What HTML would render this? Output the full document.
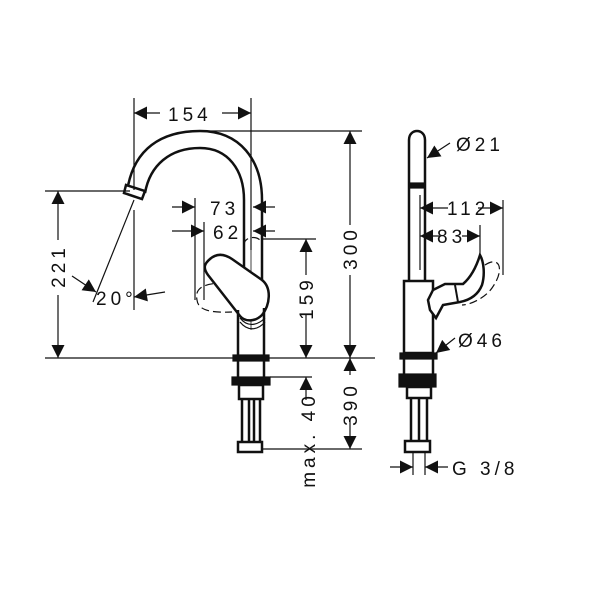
<!DOCTYPE html>
<html><head><meta charset="utf-8"><style>
html,body{margin:0;padding:0;background:#fff;width:600px;height:600px;overflow:hidden}
svg text{font-family:"Liberation Sans",sans-serif;font-size:19px;fill:#111;letter-spacing:4px}
</style></head><body>
<svg width="600" height="600" viewBox="0 0 600 600" xmlns="http://www.w3.org/2000/svg">
<defs>
<marker id="a" viewBox="0 0 10 10" refX="10" refY="5" markerWidth="15" markerHeight="13" markerUnits="userSpaceOnUse" orient="auto"><path d="M0,0L10,5L0,10z" fill="#111"/></marker>
</defs>
<g stroke="#111" fill="none" stroke-width="1.2">
<line x1="134" y1="98" x2="134" y2="190"/>
<line x1="251" y1="98" x2="251" y2="250"/>
<line x1="190" y1="131" x2="362" y2="131"/>
<line x1="45" y1="191" x2="130" y2="191"/>
<line x1="45" y1="358" x2="375" y2="358"/>
<line x1="262" y1="449" x2="362" y2="449"/>
<line x1="270" y1="377" x2="312" y2="377"/>
<line x1="262" y1="239" x2="316" y2="239"/>
<line x1="195" y1="198" x2="195" y2="300"/>
<line x1="204" y1="222" x2="204" y2="300"/>
<line x1="134" y1="200" x2="93" y2="302"/>
<line x1="134" y1="210" x2="134" y2="310" />
<line x1="160" y1="113" x2="134" y2="113" marker-end="url(#a)"/>
<line x1="222" y1="113" x2="251" y2="113" marker-end="url(#a)"/>
<line x1="350" y1="225" x2="350" y2="131" marker-end="url(#a)"/>
<line x1="350" y1="275" x2="350" y2="358" marker-end="url(#a)"/>
<line x1="350" y1="375" x2="350" y2="358" marker-end="url(#a)"/>
<line x1="350" y1="420" x2="350" y2="449" marker-end="url(#a)"/>
<line x1="58" y1="240" x2="58" y2="191" marker-end="url(#a)"/>
<line x1="58" y1="295" x2="58" y2="358" marker-end="url(#a)"/>
<line x1="306" y1="275" x2="306" y2="239" marker-end="url(#a)"/>
<line x1="306" y1="315" x2="306" y2="358" marker-end="url(#a)"/>
<line x1="306" y1="400" x2="306" y2="377" marker-end="url(#a)"/>
<line x1="172" y1="207" x2="195" y2="207" marker-end="url(#a)"/>
<line x1="275" y1="207" x2="253" y2="207" marker-end="url(#a)"/>
<line x1="172" y1="231" x2="204" y2="231" marker-end="url(#a)"/>
<line x1="275" y1="231" x2="253" y2="231" marker-end="url(#a)"/>
<line x1="72" y1="276" x2="96" y2="292" marker-end="url(#a)"/>
<line x1="165" y1="292" x2="134" y2="297" marker-end="url(#a)"/>
<path stroke-width="2.5" d="M128,186 C135,150 160,131 200,131 C240,131 262,160 262,200 L262,282"/>
<path stroke-width="2.5" d="M145,193 C150,165 170,148 200,148 C228,148 244,170 244,200 L244,278"/>
<path stroke-width="2.5" d="M126,185 L145,191 L142,199 L124,193 z"/>
<line x1="251" y1="245" x2="251" y2="330" stroke-width="0.8"/>
<path stroke-dasharray="8,4" d="M244,245 C244,235 262,235 262,245 L262,280"/>
<path stroke-dasharray="8,4" d="M225,283 C200,283 195,290 197,300 C198,310 210,313 232,312"/>
<path stroke-width="2.5" fill="#fff" d="M210,259 C218,252 226,255 232,259 L262,280 C272,288 270,305 262,315 C255,322 245,322 240,316 L208,275 C203,268 204,264 210,259 z"/>
<path d="M240,318 C248,328 258,325 265,318"/>
<path d="M240,322 C248,332 258,330 265,322"/>
<path stroke-width="2.5" d="M238,310 L238,356 M264,308 L264,356"/>
<rect x="233" y="355" width="36" height="6" fill="#111"/>
<path stroke-width="2.5" d="M238,361 L238,377 M264,361 L264,377"/>
<rect x="232" y="377" width="38" height="8" fill="#111"/>
<rect x="239" y="385" width="24" height="14" stroke-width="2.5"/>
<path stroke-width="2.5" d="M242,399 L242,442 M260,399 L260,442 M249,399 L249,442 M254,399 L254,442"/>
<rect x="238" y="442" width="24" height="10" stroke-width="2.5"/>
<path stroke-width="2.5" d="M409,282 L409,140 C409,128 425,128 425,140 L425,282"/>
<rect x="409" y="183" width="16" height="5" fill="#111"/>
<line x1="420" y1="195" x2="420" y2="270"/>
<line x1="503" y1="200" x2="503" y2="275"/>
<line x1="480" y1="225" x2="480" y2="255"/>
<rect x="404" y="281" width="29" height="72" stroke-width="2.5"/>
<path stroke-width="2.5" fill="#fff" d="M433,290 L445,284 L463,284 C470,278 476,268 480,255 C484,262 485,275 482,285 C478,295 470,300 460,302 L443,305 L436,318 L430,310 L428,300 z"/>
<path stroke-width="2" d="M455,285 L458,302"/>
<path stroke-dasharray="8,4" d="M485,265 C500,255 505,270 492,288 C485,298 470,305 462,305"/>
<rect x="400" y="353" width="37" height="6" fill="#111"/>
<path stroke-width="2.5" d="M404,359 L404,374 M433,359 L433,374"/>
<rect x="399" y="374" width="37" height="13" fill="#111"/>
<rect x="407" y="387" width="24" height="11" stroke-width="2.5"/>
<path stroke-width="2.5" d="M411,398 L411,441 M427,398 L427,441 M419,398 L419,441"/>
<rect x="405" y="441" width="25" height="11" stroke-width="2.5"/>
<line x1="413" y1="452" x2="413" y2="475"/>
<line x1="425" y1="452" x2="425" y2="475"/>
<line x1="450" y1="143" x2="427" y2="158" marker-end="url(#a)"/>
<line x1="448" y1="208" x2="420" y2="208" marker-end="url(#a)"/>
<line x1="478" y1="208" x2="503" y2="208" marker-end="url(#a)"/>
<line x1="440" y1="236" x2="420" y2="236" marker-end="url(#a)"/>
<line x1="462" y1="236" x2="480" y2="236" marker-end="url(#a)"/>
<line x1="455" y1="338" x2="436" y2="353" marker-end="url(#a)"/>
<line x1="390" y1="467" x2="413" y2="467" marker-end="url(#a)"/>
<line x1="448" y1="467" x2="425" y2="467" marker-end="url(#a)"/>
</g>
<text x="168" y="121">154</text>
<text x="210" y="215">73</text>
<text x="213" y="239">62</text>
<text x="96" y="305">20°</text>
<text x="456" y="151">Ø21</text>
<text x="447" y="215">112</text>
<text x="437" y="243">83</text>
<text x="458" y="347">Ø46</text>
<text x="452" y="475">G 3/8</text>
<text transform="translate(357,248) rotate(-90)" text-anchor="middle">300</text>
<text transform="translate(65,266) rotate(-90)" text-anchor="middle">221</text>
<text transform="translate(313,298) rotate(-90)" text-anchor="middle">159</text>
<text transform="translate(357,404) rotate(-90)" text-anchor="middle">390</text>
<text transform="translate(315,440) rotate(-90)" text-anchor="middle">max. 40</text>
</svg>
</body></html>
